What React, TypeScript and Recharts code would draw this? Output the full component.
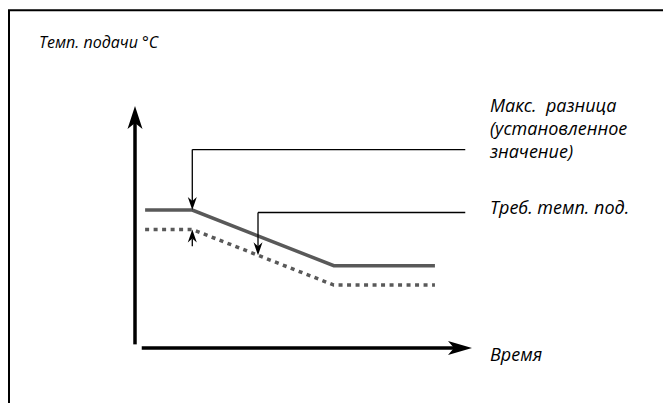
import { LineChart, Line, XAxis, YAxis, ReferenceLine } from "recharts";

// time positions (arbitrary units 0..100) and flow temperatures (0..100)
const times = [3, 17, 59, 89];
const limitTemp = [57, 57, 34, 34]; // solid line
const requiredTemp = [49, 49, 26, 26]; // dashed line – "Треб. темп. под."

// leader lines for the two callouts (same units as the data)
const diffLeaderY = 82;
const diffTailY = 42;
const reqLeaderY = 56;
const reqPointerX = 36.5;
const leaderEndX = 98;

const limitData = times.map((t, i) => ({ t, v: limitTemp[i] }));
const requiredData = times.map((t, i) => ({ t, v: requiredTemp[i] }));

// value of the dashed series at an x position, used to end the pointer on it
function requiredAt(t: number) {
  for (let i = 0; i < times.length - 1; i++) {
    if (t >= times[i] && t <= times[i + 1]) {
      const k = (t - times[i]) / (times[i + 1] - times[i]);
      return requiredTemp[i] + k * (requiredTemp[i + 1] - requiredTemp[i]);
    }
  }
  return requiredTemp[requiredTemp.length - 1];
}

const FONT = "'Open Sans', 'DejaVu Sans', sans-serif";

function arrowShape(width: number, head: number, half: number, notch: number, withHead = true) {
  return (p: any) => {
    const { x1, y1, x2, y2 } = p;
    const dx = x2 - x1;
    const dy = y2 - y1;
    const len = Math.hypot(dx, dy) || 1;
    const ux = dx / len;
    const uy = dy / len;
    const px = -uy;
    const py = ux;
    if (!withHead) {
      return <line x1={x1} y1={y1} x2={x2} y2={y2} stroke="#000" strokeWidth={width} />;
    }
    const bx = x2 - ux * head;
    const by = y2 - uy * head;
    const nx = x2 - ux * (head - notch);
    const ny = y2 - uy * (head - notch);
    const pts = [
      [x2, y2],
      [bx + px * half, by + py * half],
      [nx, ny],
      [bx - px * half, by - py * half],
    ]
      .map((q) => q.join(","))
      .join(" ");
    return (
      <g>
        <line x1={x1} y1={y1} x2={nx} y2={ny} stroke="#000" strokeWidth={width} />
        <polygon points={pts} fill="#000" />
      </g>
    );
  };
}

export default function App() {
  return (
    <div style={{ position: "absolute", left: 0, top: 0, width: 663, height: 403, background: "#fff" }}>
      <LineChart
        width={663}
        height={403}
        margin={{ top: 106, left: 135, right: 191, bottom: 55 }}
      >
        <XAxis type="number" dataKey="t" domain={[0, 100]} hide allowDataOverflow />
        <YAxis type="number" dataKey="v" domain={[0, 100]} hide allowDataOverflow />

        {/* axes with arrows */}
        <ReferenceLine
          segment={[{ x: 0, y: 1.5 }, { x: 0, y: 100 }]}
          ifOverflow="visible"
          shape={arrowShape(3.5, 23, 7.5, 6)}
        />
        <ReferenceLine
          segment={[{ x: 2, y: 0 }, { x: 100, y: 0 }]}
          ifOverflow="visible"
          shape={arrowShape(3.5, 24, 7, 6)}
        />

        <Line
          data={limitData}
          dataKey="v"
          type="linear"
          stroke="#595959"
          strokeWidth={3.5}
          dot={false}
          activeDot={false}
          isAnimationActive={false}
        />
        <Line
          data={requiredData}
          dataKey="v"
          type="linear"
          stroke="#595959"
          strokeWidth={3.5}
          strokeDasharray="4 4.5"
          dot={false}
          activeDot={false}
          isAnimationActive={false}
        />

        {/* "Макс. разница" callout */}
        <ReferenceLine
          segment={[{ x: times[1], y: diffLeaderY }, { x: leaderEndX, y: diffLeaderY }]}
          ifOverflow="visible"
          shape={arrowShape(1.3, 0, 0, 0, false)}
        />
        <ReferenceLine
          segment={[{ x: times[1], y: diffLeaderY }, { x: times[1], y: limitTemp[1] }]}
          ifOverflow="visible"
          shape={arrowShape(1.3, 13, 4.5, 4)}
        />
        <ReferenceLine
          segment={[{ x: times[1], y: diffTailY }, { x: times[1], y: requiredTemp[1] }]}
          ifOverflow="visible"
          shape={arrowShape(1.3, 13, 4.5, 4)}
        />

        {/* "Треб. темп. под." callout */}
        <ReferenceLine
          segment={[{ x: reqPointerX, y: reqLeaderY }, { x: leaderEndX, y: reqLeaderY }]}
          ifOverflow="visible"
          shape={arrowShape(1.3, 0, 0, 0, false)}
        />
        <ReferenceLine
          segment={[{ x: reqPointerX, y: reqLeaderY }, { x: reqPointerX, y: requiredAt(reqPointerX) }]}
          ifOverflow="visible"
          shape={arrowShape(1.3, 13, 4.5, 4)}
        />
      </LineChart>

      <svg
        width={663}
        height={403}
        style={{ position: "absolute", left: 0, top: 0, pointerEvents: "none" }}
      >
        <path d="M9 403 V10.3 H663" fill="none" stroke="#000" strokeWidth={2} />
        <g fontFamily={FONT} fontStyle="italic" fill="#000">
          <text x={39} y={48} fontSize={16}>Темп. подачи °C</text>
          <g fontSize={18}>
            <text x={490} y={112} style={{ whiteSpace: "pre" }}>Макс.  разница</text>
            <text x={490} y={135}>(установленное</text>
            <text x={490} y={158}>значение)</text>
            <text x={490} y={214}>Треб. темп. под.</text>
            <text x={490} y={361}>Время</text>
          </g>
        </g>
      </svg>
    </div>
  );
}
